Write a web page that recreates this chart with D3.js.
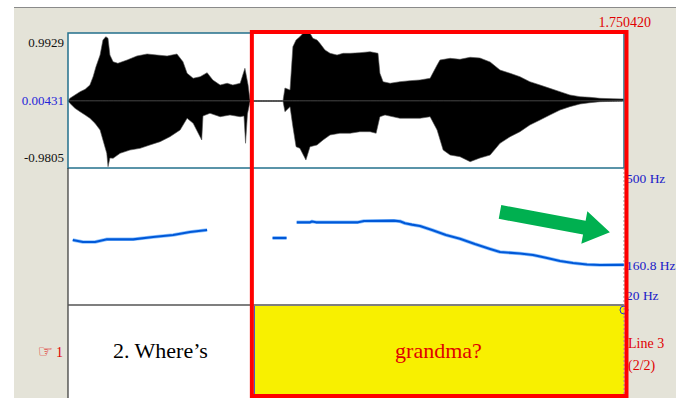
<!DOCTYPE html>
<html>
<head>
<meta charset="utf-8">
<script src="https://cdn.jsdelivr.net/npm/d3@7"></script>
<style>
body { margin: 0; background: #fff; }
svg { display: block; }
text { font-family: "Liberation Serif", "Times New Roman", serif; }
</style>
</head>
<body>
<div id="container"></div>
<script>
var width = 691;
var height = 398;

// sound: total duration and amplitude range (s, Pa)
var duration = 1.750420;
var ampTicks = [0.9929, 0.00431, -0.9805];

// waveform envelope: [time, amplitude]
var envUpper = [
  [0.000, 0.000], [0.006, 0.038], [0.022, 0.087], [0.038, 0.135], [0.054, 0.170], [0.069, 0.233],
  [0.079, 0.354], [0.088, 0.500], [0.101, 0.671], [0.110, 0.890], [0.119, 0.939], [0.126, 0.915],
  [0.132, 0.671], [0.142, 0.573], [0.157, 0.550], [0.186, 0.598], [0.217, 0.657], [0.249, 0.686],
  [0.280, 0.671], [0.312, 0.657], [0.343, 0.686], [0.362, 0.573], [0.375, 0.404], [0.394, 0.331],
  [0.416, 0.354], [0.438, 0.413], [0.456, 0.306], [0.479, 0.233], [0.501, 0.258], [0.519, 0.233],
  [0.542, 0.258], [0.557, 0.477], [0.567, 0.233], [0.573, 0.013], [0.579, 0.006], [0.677, 0.006],
  [0.683, 0.189], [0.699, 0.160], [0.708, 0.793], [0.718, 0.891], [0.730, 0.939], [0.740, 0.988],
  [0.762, 0.988], [0.771, 0.915], [0.784, 0.891], [0.793, 0.842], [0.809, 0.745], [0.825, 0.696],
  [0.847, 0.671], [0.866, 0.696], [0.888, 0.696], [0.919, 0.705], [0.951, 0.719], [0.976, 0.696],
  [0.982, 0.404], [0.992, 0.281], [1.014, 0.258], [1.045, 0.281], [1.077, 0.296], [1.108, 0.306],
  [1.140, 0.331], [1.162, 0.525], [1.171, 0.598], [1.203, 0.623], [1.234, 0.608], [1.266, 0.638],
  [1.297, 0.627], [1.329, 0.569], [1.360, 0.452], [1.392, 0.404], [1.423, 0.354], [1.454, 0.281],
  [1.486, 0.233], [1.517, 0.184], [1.549, 0.135], [1.580, 0.087], [1.612, 0.062], [1.643, 0.053],
  [1.675, 0.038], [1.716, 0.032], [1.750, 0.028]
];
var envLower = [
  [0.000, 0.000], [0.006, -0.035], [0.022, -0.108], [0.038, -0.158], [0.054, -0.206], [0.069, -0.254],
  [0.085, -0.327], [0.101, -0.425], [0.110, -0.571], [0.122, -0.766], [0.126, -0.962], [0.132, -0.834],
  [0.142, -0.839], [0.164, -0.766], [0.195, -0.718], [0.227, -0.693], [0.258, -0.644], [0.290, -0.596],
  [0.321, -0.523], [0.353, -0.425], [0.375, -0.254], [0.394, -0.327], [0.421, -0.571], [0.425, -0.220],
  [0.447, -0.181], [0.479, -0.231], [0.510, -0.206], [0.542, -0.231], [0.554, -0.220], [0.559, -0.619],
  [0.565, -0.191], [0.573, -0.011], [0.579, -0.008], [0.677, -0.008], [0.683, -0.158], [0.699, -0.084],
  [0.708, -0.377], [0.718, -0.669], [0.730, -0.693], [0.749, -0.864], [0.762, -0.669], [0.784, -0.644],
  [0.803, -0.571], [0.825, -0.498], [0.856, -0.473], [0.888, -0.473], [0.919, -0.450], [0.951, -0.450],
  [0.970, -0.473], [0.982, -0.231], [0.998, -0.206], [1.045, -0.254], [1.108, -0.254], [1.140, -0.231],
  [1.162, -0.425], [1.181, -0.717], [1.203, -0.791], [1.234, -0.815], [1.266, -0.888], [1.297, -0.834],
  [1.329, -0.791], [1.360, -0.620], [1.392, -0.523], [1.423, -0.450], [1.454, -0.352], [1.486, -0.279],
  [1.517, -0.206], [1.549, -0.133], [1.580, -0.084], [1.612, -0.045], [1.643, -0.026], [1.675, -0.011],
  [1.750, -0.001]
];

// pitch contour (Hz), three voiced stretches
var pitchRange = [20, 500];
var pitchLast = 160.8;
var pitch1 = [
  [0.015, 247.8], [0.047, 240.8], [0.085, 240.8], [0.123, 250.2], [0.205, 250.2],
  [0.268, 258.3], [0.331, 265.3], [0.384, 275.8], [0.438, 282.8]
];
var pitch2 = [[0.644, 254.8], [0.688, 254.8]];
var pitch3 = [
  [0.720, 309.8], [0.762, 309.8], [0.768, 312.6], [0.781, 309.8], [0.913, 309.8], [0.932, 314.3],
  [1.026, 315.4], [1.045, 313.3], [1.061, 306.3], [1.083, 301.4], [1.108, 296.8], [1.146, 282.8],
  [1.190, 265.3], [1.234, 252.3], [1.281, 233.7], [1.329, 216.2], [1.360, 205.7], [1.423, 200.5],
  [1.464, 195.2], [1.508, 184.7], [1.549, 174.2], [1.590, 167.2], [1.634, 161.9], [1.675, 160.2],
  [1.750, 160.8]
];

// text tier
var tierStarts = [0, 0.582];
var tierLabels = ["2. Where\u2019s", "grandma?"];
var selStart = 0.582;

// arrow: tail and tip as [time, Hz]
var arrowTail = [1.360, 345.9];
var arrowTip = [1.706, 274.7];

var svg = d3.select("div#container").append("svg")
    .attr("width", width)
    .attr("height", height)
    .attr("viewBox", "0 0 " + width + " " + height);

var x = d3.scaleLinear().domain([0, duration]).range([68, 624]);
var amp = d3.scaleLinear().domain([ampTicks[2], ampTicks[0]]).range([168, 33]);
var hz = d3.scaleLinear().domain(pitchRange).range([305, 168]);

// window background
svg.append("rect").attr("x", 14).attr("y", 7).attr("width", 662).attr("height", 391)
    .attr("fill", "#e4e3d8");
svg.append("line").attr("x1", 14).attr("x2", 676).attr("y1", 7.5).attr("y2", 7.5)
    .attr("stroke", "#8a8a8a");

// white drawing area
svg.append("rect").attr("x", 68).attr("y", 33).attr("width", 556).attr("height", 365)
    .attr("fill", "#fff");

// yellow selected interval
svg.append("rect")
    .attr("x", x(tierStarts[1]) + 1).attr("y", 306)
    .attr("width", x(duration) - x(tierStarts[1]) - 1).attr("height", 92)
    .attr("fill", "#f8f000");
svg.append("line")
    .attr("x1", x(tierStarts[1]) + 1.5).attr("x2", x(tierStarts[1]) + 1.5)
    .attr("y1", 306).attr("y2", 398)
    .attr("stroke", "#3040e0").attr("stroke-width", 1);

// zero line (dotted, visible in silences)
svg.append("line").attr("x1", x(0)).attr("x2", x(duration))
    .attr("y1", amp(0)).attr("y2", amp(0))
    .attr("stroke", "#666").attr("stroke-width", 1).attr("stroke-dasharray", "1.5,1");

// waveform
var area = d3.area()
    .x(function(d) { return x(d[0]); })
    .y0(amp(0))
    .y1(function(d) { return amp(d[1]); });
svg.append("path").datum(envUpper).attr("d", area)
    .attr("fill", "#000").attr("stroke", "#555").attr("stroke-width", 0.6);
svg.append("path").datum(envLower).attr("d", area)
    .attr("fill", "#000").attr("stroke", "#555").attr("stroke-width", 0.6);

// waveform box
svg.append("rect").attr("x", 68).attr("y", 33).attr("width", 556).attr("height", 135)
    .attr("fill", "none").attr("stroke", "#23708c").attr("stroke-width", 1.5);

// panel borders
svg.append("line").attr("x1", 68).attr("x2", 68).attr("y1", 168).attr("y2", 398)
    .attr("stroke", "#333").attr("stroke-width", 1.2);
svg.append("line").attr("x1", 68).attr("x2", 624).attr("y1", 305).attr("y2", 305)
    .attr("stroke", "#555").attr("stroke-width", 1.5);
svg.append("line").attr("x1", 624).attr("x2", 624).attr("y1", 168).attr("y2", 398)
    .attr("stroke", "#999").attr("stroke-dasharray", "2,2");

// amplitude labels
svg.selectAll(".amp").data(ampTicks).enter().append("text")
    .attr("class", "amp")
    .attr("x", 64)
    .attr("y", function(d) { return amp(d); })
    .attr("dy", "0.35em")
    .attr("text-anchor", "end")
    .attr("font-size", 13)
    .attr("fill", function(d, i) { return i === 1 ? "#2424d8" : "#111"; })
    .text(function(d) { return d; });
// edge labels sit inside the box like Praat
svg.selectAll(".amp").filter(function(d, i) { return i === 0; }).attr("y", 42);
svg.selectAll(".amp").filter(function(d, i) { return i === 2; }).attr("y", 157);

// pitch contour
var line = d3.line()
    .x(function(d) { return x(d[0]); })
    .y(function(d) { return hz(d[1]); });
[pitch1, pitch2, pitch3].forEach(function(seg) {
    svg.append("path").datum(seg).attr("d", line)
        .attr("fill", "none").attr("stroke", "#8fc4ff").attr("stroke-width", 3.6)
        .attr("stroke-linejoin", "round");
    svg.append("path").datum(seg).attr("d", line)
        .attr("fill", "none").attr("stroke", "#0058d8").attr("stroke-width", 2.2)
        .attr("stroke-linejoin", "round");
});

// pitch labels
var hzLabels = [
    {y: hz(pitchRange[1]) + 10, t: pitchRange[1] + " Hz"},
    {y: hz(pitchLast), t: pitchLast + " Hz"},
    {y: hz(pitchRange[0]) - 10, t: pitchRange[0] + " Hz"}
];
svg.selectAll(".hz").data(hzLabels).enter().append("text")
    .attr("class", "hz")
    .attr("x", 626)
    .attr("y", function(d) { return d.y; })
    .attr("dy", "0.35em")
    .attr("font-size", 13.5)
    .attr("fill", "#2020c8")
    .text(function(d) { return d.t; });

// green arrow
var p0 = [x(arrowTail[0]), hz(arrowTail[1])];
var p1 = [x(arrowTip[0]), hz(arrowTip[1])];
var ang = Math.atan2(p1[1] - p0[1], p1[0] - p0[0]) * 180 / Math.PI;
var len = Math.hypot(p1[0] - p0[0], p1[1] - p0[1]);
var headLen = 26, shaftW = 7, headW = 16.5;
svg.append("path")
    .attr("transform", "translate(" + p0[0] + "," + p0[1] + ") rotate(" + ang + ")")
    .attr("d", d3.line()([
        [0, -shaftW], [len - headLen, -shaftW], [len - headLen, -headW], [len, 0],
        [len - headLen, headW], [len - headLen, shaftW], [0, shaftW]
    ]) + "Z")
    .attr("fill", "#00b050");

// tier texts
svg.selectAll(".tier").data(tierLabels).enter().append("text")
    .attr("class", "tier")
    .attr("x", function(d, i) {
        var end = i + 1 < tierStarts.length ? tierStarts[i + 1] : duration;
        return (x(tierStarts[i]) + x(end)) / 2;
    })
    .attr("y", 358)
    .attr("text-anchor", "middle")
    .attr("font-size", 22)
    .attr("fill", function(d, i) { return i === 1 ? "#e00000" : "#000"; })
    .text(function(d) { return d; });

// tier number at left
svg.append("text").attr("x", 53).attr("y", 357).attr("text-anchor", "end")
    .attr("font-size", 17).attr("fill", "#e00000")
    .style("font-family", "DejaVu Sans").text("\u261E");
svg.append("text").attr("x", 63).attr("y", 357).attr("text-anchor", "end")
    .attr("font-size", 14).attr("fill", "#e00000").text("1");

// tier marker circle
svg.append("circle").attr("cx", x(duration)).attr("cy", 310).attr("r", 4)
    .attr("fill", "none").attr("stroke", "#2030e0").attr("stroke-width", 1);

// right tier info
svg.append("text").attr("x", 628).attr("y", 348).attr("font-size", 14)
    .attr("fill", "#e00000").text("Line 3");
svg.append("text").attr("x", 628).attr("y", 370).attr("font-size", 14)
    .attr("fill", "#e00000").text("(2/2)");

// red selection frame
svg.append("rect")
    .attr("x", x(selStart) - 1).attr("y", 32)
    .attr("width", x(duration) + 2.5 - (x(selStart) - 1)).attr("height", 364)
    .attr("fill", "none").attr("stroke", "#ff0000").attr("stroke-width", 4);

// end time label
svg.append("text").attr("x", 651).attr("y", 22).attr("dy", "0.35em")
    .attr("text-anchor", "end").attr("font-size", 14).attr("fill", "#e00000")
    .text(duration.toFixed(6));
</script>
</body>
</html>
